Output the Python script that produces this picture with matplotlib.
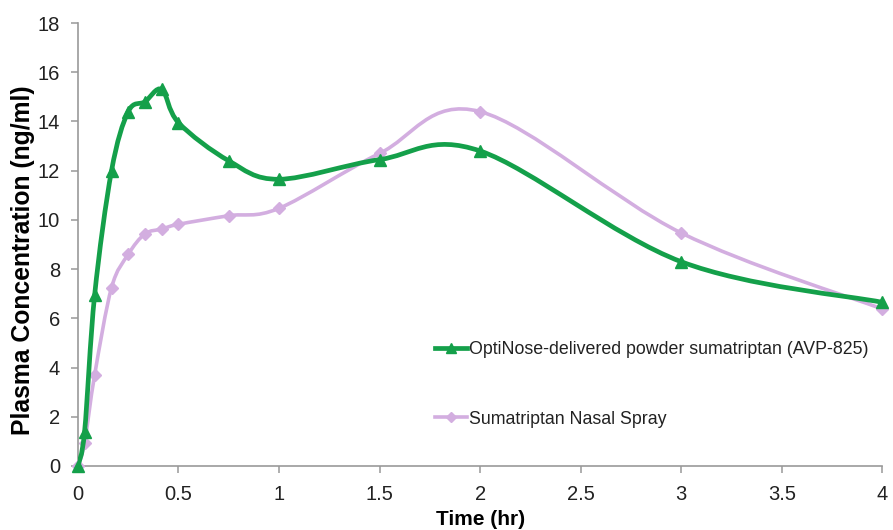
import matplotlib
matplotlib.use("Agg")
import matplotlib.pyplot as plt
from matplotlib.path import Path
from matplotlib.patches import PathPatch
from matplotlib.lines import Line2D
import numpy as np

plt.rcParams['font.family'] = ['Liberation Sans', 'DejaVu Sans']

time_hr = [0, 0.033, 0.083, 0.167, 0.25, 0.333, 0.417, 0.5, 0.75, 1, 1.5, 2, 3, 4]
optinose = [0, 1.4, 6.95, 12.0, 14.4, 14.8, 15.3, 13.95, 12.4, 11.65, 12.45, 12.8, 8.3, 6.65]
nasal_spray = [0, 0.95, 3.7, 7.25, 8.6, 9.43, 9.63, 9.82, 10.17, 10.47, 12.7, 14.4, 9.47, 6.38]

label_opti = "OptiNose-delivered powder sumatriptan (AVP-825)"
label_spray = "Sumatriptan Nasal Spray"
x_ticks = [0, 0.5, 1, 1.5, 2, 2.5, 3, 3.5, 4]
x_ticklabels = ["0", "0.5", "1", "1.5", "2", "2.5", "3", "3.5", "4"]
y_ticks = list(range(0, 19, 2))

green = "#14a04a"
lilac = "#d3aee0"


def smooth_path(xs, ys):
    x = np.asarray(xs, float)
    y = np.asarray(ys, float)
    n = len(x)
    verts = [(x[0], y[0])]
    codes = [Path.MOVETO]
    for i in range(n - 1):
        i0 = max(i - 1, 0)
        i3 = min(i + 2, n - 1)
        c1 = (x[i] + (x[i + 1] - x[i0]) / 6, y[i] + (y[i + 1] - y[i0]) / 6)
        c2 = (x[i + 1] - (x[i3] - x[i]) / 6, y[i + 1] - (y[i3] - y[i]) / 6)
        verts += [c1, c2, (x[i + 1], y[i + 1])]
        codes += [Path.CURVE4] * 3
    return Path(verts, codes)


fig = plt.figure(figsize=(8.93, 5.30), dpi=100)
ax = fig.add_axes([0.0873, 0.1208, 0.9007, 0.8358])

ax.add_patch(PathPatch(smooth_path(time_hr, nasal_spray), fill=False,
                       edgecolor=lilac, lw=2.6, zorder=2, capstyle='round'))
ax.plot(time_hr, nasal_spray, ls='none', marker='D', ms=6.5, color=lilac,
        zorder=3, clip_on=False)
ax.add_patch(PathPatch(smooth_path(time_hr, optinose), fill=False,
                       edgecolor=green, lw=3.4, zorder=4, capstyle='round'))
ax.plot(time_hr, optinose, ls='none', marker='^', ms=9, color=green,
        zorder=5, clip_on=False)

ax.set_xlim(0, 4)
ax.set_ylim(0, 18)
ax.set_xticks(x_ticks)
ax.set_xticklabels(x_ticklabels)
ax.set_yticks(y_ticks)
for s in ['top', 'right']:
    ax.spines[s].set_visible(False)
for s in ['left', 'bottom']:
    ax.spines[s].set_color('#999999')
    ax.spines[s].set_linewidth(1.2)
ax.tick_params(axis='both', colors='#999999', labelcolor='#222222',
               labelsize=14.5, length=5, width=1.1, direction='out')
ax.tick_params(axis='y', pad=8)
ax.tick_params(axis='x', pad=9)

ax.set_xlabel("Time (hr)", fontsize=15, fontweight='bold', labelpad=4)
ax.set_ylabel("Plasma Concentration (ng/ml)", fontsize=17.8, fontweight='bold')
ax.yaxis.set_label_coords(-0.054, 0.465)

handles = [Line2D([], [], color=green, lw=3.4, marker='^', ms=7),
           Line2D([], [], color=lilac, lw=2.6, marker='D', ms=5)]
leg = ax.legend(handles, [label_opti, label_spray], loc='center left',
                bbox_to_anchor=(0.435, 0.184), frameon=False, fontsize=12.8,
                handlelength=1.8, handletextpad=0.1, labelspacing=2.95,
                borderaxespad=0)
for t in leg.get_texts():
    t.set_color('#222222')

fig.savefig("out.png", dpi=100)
